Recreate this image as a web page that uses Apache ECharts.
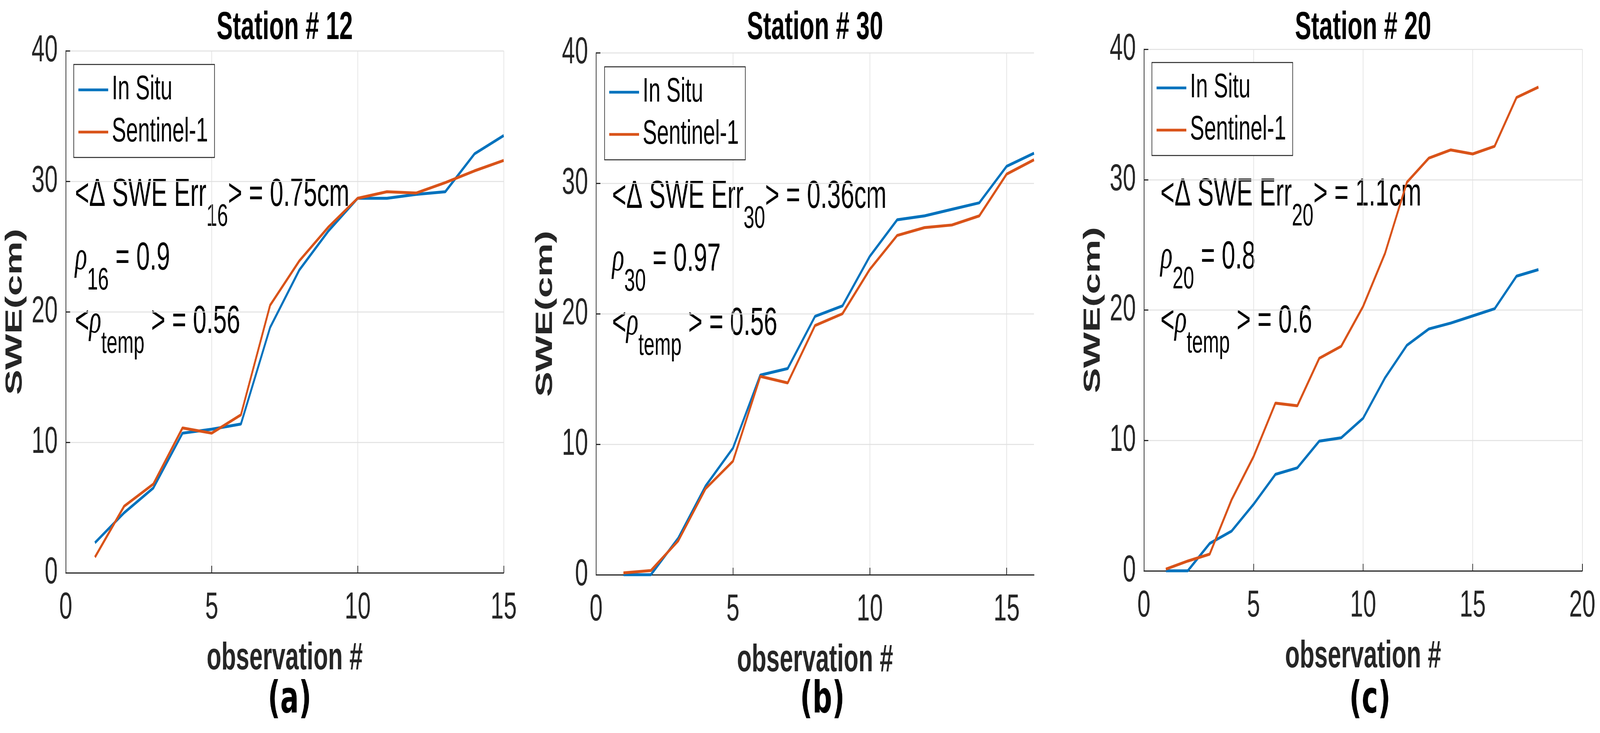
<!DOCTYPE html>
<html>
<head>
<meta charset="utf-8">
<script src="https://cdn.jsdelivr.net/npm/echarts/dist/echarts.min.js"></script>
<style>
html,body{margin:0;padding:0;background:#fff;overflow:hidden}
#wrap{width:6595px;height:1876px;transform-origin:0 0}
#c{width:6595px;height:1876px}
</style>
</head>
<body>
<div id="wrap"><div id="c"></div></div>
<script>
// ---- data ----
const titles = ['Station # 12', 'Station # 30', 'Station # 20'];
const panelLabels = ['(a)', '(b)', '(c)'];
const xMax = [15, 16, 20];
const xTicks = [0, 5, 10, 15, 20];
const yTicks = [0, 10, 20, 30, 40];

const obsA = [1,2,3,4,5,6,7,8,9,10,11,12,13,14,15];
const inSituA = [2.3,4.6,6.5,10.7,11.0,11.4,18.8,23.2,26.2,28.7,28.7,29.0,29.2,32.1,33.5];
const sentA   = [1.2,5.1,6.8,11.1,10.7,12.1,20.5,23.9,26.5,28.7,29.2,29.1,29.9,30.8,31.6];

const obsB = [1,2,3,4,5,6,7,8,9,10,11,12,13,14,15,16];
const inSituB = [0,0,2.8,6.8,9.7,15.3,15.8,19.8,20.6,24.4,27.2,27.5,28.0,28.5,31.3,32.3];
const sentB   = [0.14,0.32,2.6,6.6,8.7,15.2,14.7,19.1,20.0,23.4,26.0,26.6,26.8,27.5,30.7,31.8];

const obsC = [1,2,3,4,5,6,7,8,9,10,11,12,13,14,15,16,17,18];
const inSituC = [0,0,2.1,3.05,5.1,7.4,7.9,9.95,10.2,11.7,14.8,17.3,18.55,19.0,19.55,20.1,22.6,23.1];
const sentC   = [0.13,0.75,1.28,5.45,8.75,12.86,12.66,16.3,17.22,20.28,24.35,29.8,31.65,32.28,31.97,32.56,36.3,37.1];

const errSub = ['16', '30', '20'];
const errVal = ['0.75cm', '0.36cm', '1.1cm'];
const rhoSub = ['16', '30', '20'];
const rhoVal = ['0.9', '0.97', '0.8'];
const rhoTemp = ['0.56', '0.56', '0.6'];

// ---- fit the 6595x1876 drawing into whatever window we get ----
const W = 6595, H = 1876;
const sx = Math.min(1, window.innerWidth / W), sy = Math.min(1, window.innerHeight / H);
document.getElementById('wrap').style.transform = 'scale(' + sx + ',' + sy + ')';

// ---- layout ----
const grids = [
  {left: 271, top: 130, width: 1805, height: 1336},
  {left: 2457, top: 135, width: 1805, height: 1336},
  {left: 4715, top: 126, width: 1807, height: 1335}
];
const legendPos = [{left: 304, top: 165}, {left: 2492, top: 171}, {left: 4748, top: 160}];
const annoX = [309, 2523, 4783];
const annoY = [[499, 662, 824], [504, 665, 829], [498, 659, 823]];
const labelDx = [20, 30, 28];

const obs = [obsA, obsB, obsC];
const inSitu = [inSituA, inSituB, inSituC];
const sent = [sentA, sentB, sentC];

const BLUE = '#0072BD', ORANGE = '#D95319', AX = '#262626';
const FONT = '"Liberation Sans", Arial, Helvetica, sans-serif';

const option = {
  animation: false,
  backgroundColor: '#fff',
  textStyle: {fontFamily: FONT},
  grid: grids.map(g => Object.assign({containLabel: false}, g)),
  xAxis: [], yAxis: [], series: [], legend: [], graphic: []
};

for (let i = 0; i < 3; i++) {
  const ticks = xTicks.filter(t => t <= xMax[i]);
  option.xAxis.push({
    type: 'value', gridIndex: i, min: 0, max: xMax[i], interval: 5,
    name: 'observation #', nameLocation: 'middle', nameGap: 170,
    nameTextStyle: {fontSize: 99, fontWeight: 'bold', color: AX, fontFamily: FONT},
    axisLine: {show: true, onZero: false, lineStyle: {color: AX, width: 3}},
    axisTick: {show: true, inside: true, length: 18, customValues: ticks, lineStyle: {color: AX, width: 3}},
    axisLabel: {fontSize: 97, color: AX, margin: 42, customValues: ticks, fontFamily: FONT},
    splitLine: {show: true, lineStyle: {color: '#e1e1e1', width: 2.5}}
  });
  option.yAxis.push({
    type: 'value', gridIndex: i, min: 0, max: 40, interval: 10,
    name: 'SWE(cm)', nameLocation: 'middle', nameGap: 160, nameRotate: 90,
    nameTextStyle: {fontSize: 97, fontWeight: 'bold', color: AX, fontFamily: FONT},
    axisLine: {show: true, onZero: false, lineStyle: {color: AX, width: 3}},
    axisTick: {show: true, inside: true, length: 18, customValues: yTicks, lineStyle: {color: AX, width: 3}},
    axisLabel: {fontSize: 97, color: AX, margin: 33, customValues: yTicks, fontFamily: FONT},
    splitLine: {show: true, lineStyle: {color: '#e1e1e1', width: 2.5}}
  });
  option.series.push({
    type: 'line', name: 'In Situ', xAxisIndex: i, yAxisIndex: i, symbol: 'none',
    lineStyle: {color: BLUE, width: 7.5}, itemStyle: {color: BLUE},
    data: obs[i].map((x, k) => [x, inSitu[i][k]])
  });
  option.series.push({
    type: 'line', name: 'Sentinel-1', xAxisIndex: i, yAxisIndex: i, symbol: 'none',
    lineStyle: {color: ORANGE, width: 7.5}, itemStyle: {color: ORANGE},
    data: obs[i].map((x, k) => [x, sent[i][k]])
  });
  option.legend.push({
    data: ['In Situ', 'Sentinel-1'], orient: 'vertical',
    left: legendPos[i].left, top: legendPos[i].top,
    icon: 'rect', itemWidth: 123, itemHeight: 7, itemGap: 8,
    padding: [15, 27, 15, 19],
    backgroundColor: '#fff', borderColor: AX, borderWidth: 2.5, borderRadius: 0,
    textStyle: {fontSize: 88, color: '#000', lineHeight: 100, padding: [0, 0, 0, 10], fontFamily: FONT}
  });
  const g = grids[i];
  const cx = g.left + g.width / 2;
  option.graphic.push({
    type: 'text', x: cx, y: 72, silent: true,
    style: {text: titles[i], align: 'center', verticalAlign: 'middle', fill: '#000',
      font: 'bold 100px ' + FONT}
  });
  option.graphic.push({
    type: 'text', x: cx + labelDx[i], y: 1794, silent: true,
    style: {text: panelLabels[i], align: 'center', verticalAlign: 'middle', fill: '#000',
      font: 'bold 113px "DejaVu Sans", sans-serif'}
  });
  const rich = {
    sub: {fontSize: 80, fontFamily: FONT, fill: '#000', padding: [114, 0, 0, 0], verticalAlign: 'middle'},
    rho: {fontSize: 104, fontStyle: 'italic', fontFamily: '"Liberation Serif", serif', fill: '#000', verticalAlign: 'middle'}
  };
  const lines = [
    '<Δ SWE Err{sub|' + errSub[i] + '}> = ' + errVal[i],
    '{rho|ρ}{sub|' + rhoSub[i] + '} = ' + rhoVal[i],
    '<{rho|ρ}{sub|temp} > = ' + rhoTemp[i]
  ];
  lines.forEach((t, k) => {
    option.graphic.push({
      type: 'text', x: annoX[i], y: annoY[i][k], silent: true,
      style: {text: t, align: 'left', verticalAlign: 'middle', fill: '#000',
        fontSize: 100, fontFamily: FONT, rich: rich}
    });
  });
}

const chart = echarts.init(document.getElementById('c'), null, {renderer: 'canvas', width: W, height: H});
chart.setOption(option);
</script>
</body>
</html>
